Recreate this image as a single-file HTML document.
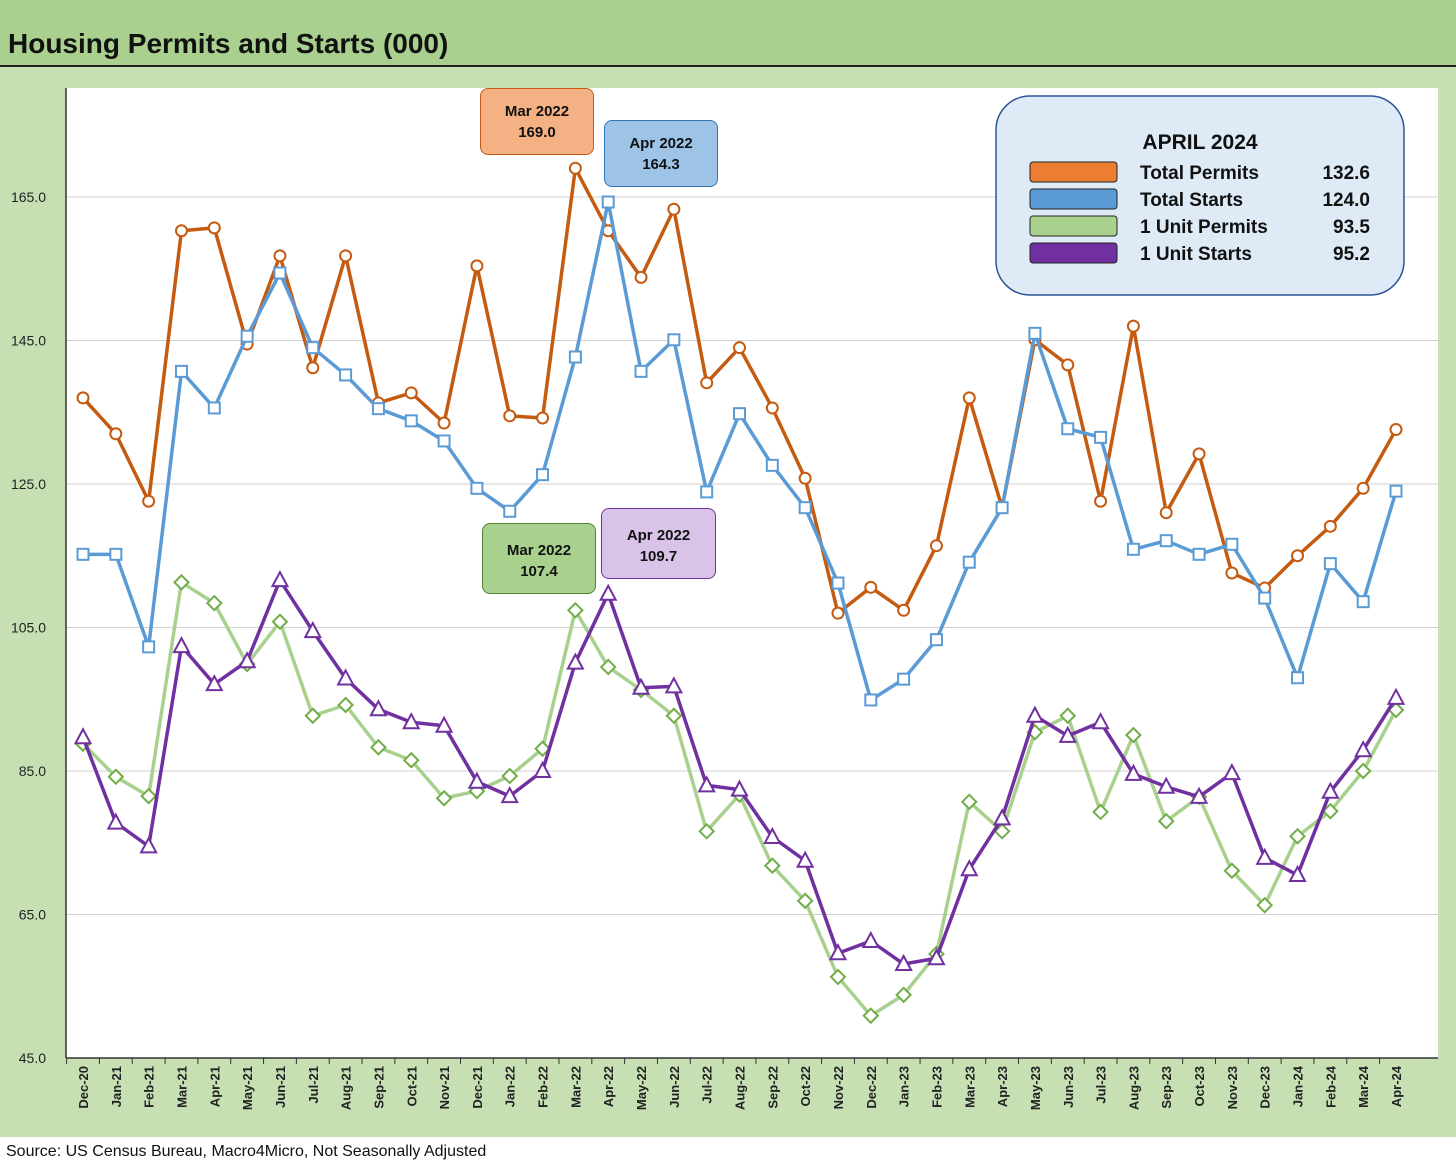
<!DOCTYPE html>
<html><head><meta charset="utf-8">
<style>
body{margin:0;width:1456px;height:1166px;background:#c6e0b4;font-family:"Liberation Sans",sans-serif;overflow:hidden;position:relative}
#hdr{position:absolute;left:0;top:0;width:1456px;height:65px;background:#a9d08e;border-bottom:2px solid #222}
#hdr span{position:absolute;left:8px;top:28px;font-size:28px;font-weight:bold;color:#111}
#foot{position:absolute;left:0;top:1137px;width:1456px;height:29px;background:#fff}
#foot span{position:absolute;left:6px;top:6px;font-size:16px;color:#111}
svg{position:absolute;left:0;top:0}
.box{position:absolute;border-radius:8px;text-align:center;font-weight:bold;font-size:15px;line-height:21px;color:#111;box-sizing:border-box;padding-top:12px}
</style></head><body>
<div id="hdr"><span>Housing Permits and Starts (000)</span></div>
<svg id="chart" width="1456" height="1166"></svg>
<div class="box" style="left:480px;top:88px;width:114px;height:67px;background:#f4b183;border:1px solid #c55a11">Mar 2022<br>169.0</div>
<div class="box" style="left:604px;top:120px;width:114px;height:67px;background:#9dc3e6;border:1px solid #2e75b6">Apr 2022<br>164.3</div>
<div class="box" style="left:482px;top:523px;width:114px;height:71px;background:#a9d18e;border:1px solid #548235;padding-top:16px">Mar 2022<br>107.4</div>
<div class="box" style="left:601px;top:508px;width:115px;height:71px;background:#d9c3e9;border:1px solid #7030a0;padding-top:16px">Apr 2022<br>109.7</div>
<div id="foot"><span>Source: US Census Bureau, Macro4Micro, Not Seasonally Adjusted</span></div>
<script>
const categories=["Dec-20","Jan-21","Feb-21","Mar-21","Apr-21","May-21","Jun-21","Jul-21","Aug-21","Sep-21","Oct-21","Nov-21","Dec-21","Jan-22","Feb-22","Mar-22","Apr-22","May-22","Jun-22","Jul-22","Aug-22","Sep-22","Oct-22","Nov-22","Dec-22","Jan-23","Feb-23","Mar-23","Apr-23","May-23","Jun-23","Jul-23","Aug-23","Sep-23","Oct-23","Nov-23","Dec-23","Jan-24","Feb-24","Mar-24","Apr-24"];
const totalPermits=[137.0,132.0,122.6,160.3,160.7,144.5,156.8,141.2,156.8,136.3,137.7,133.5,155.4,134.5,134.2,169.0,160.3,153.8,163.3,139.1,144.0,135.6,125.8,107.0,110.6,107.4,116.4,137.0,121.7,145.1,141.6,122.6,147.0,121.0,129.2,112.6,110.5,115.0,119.1,124.4,132.6];
const totalStarts=[115.2,115.2,102.3,140.7,135.6,145.6,154.4,144.0,140.2,135.5,133.8,131.0,124.4,121.2,126.3,142.7,164.3,140.7,145.1,123.9,134.8,127.6,121.7,111.2,94.9,97.8,103.3,114.1,121.7,146.0,132.7,131.5,115.9,117.1,115.2,116.6,109.1,98.0,113.9,108.6,124.0];
const unitPermits=[88.8,84.2,81.5,111.3,108.4,99.9,105.8,92.7,94.2,88.3,86.5,81.2,82.2,84.3,88.1,107.4,99.5,96.3,92.7,76.6,81.7,71.8,66.9,56.3,50.9,53.8,59.5,80.7,76.6,90.4,92.7,79.3,90.0,78.0,81.4,71.1,66.3,75.9,79.4,85.0,93.5];
const unitStarts=[89.7,77.8,74.5,102.4,97.1,100.3,111.6,104.5,97.9,93.6,91.8,91.3,83.5,81.5,85.0,100.1,109.7,96.6,96.8,83.0,82.4,75.8,72.5,59.6,61.3,58.1,58.9,71.3,78.4,92.7,89.9,91.8,84.6,82.8,81.4,84.7,72.9,70.5,82.1,87.9,95.2];
const yTicks=[45,65,85,105,125,145,165];
const legendNames=["Total Permits","Total Starts","1 Unit Permits","1 Unit Starts"];
const legendValues=["132.6","124.0","93.5","95.2"];

const NS="http://www.w3.org/2000/svg";
const svg=document.getElementById('chart');
const X0=83,X1=1396,Y0=1058,YT=197;
function x(i){return X0+(X1-X0)*i/(categories.length-1);}
function y(v){return Y0-(v-45)*(Y0-YT)/120;}
function mk(t,a,p){const e=document.createElementNS(NS,t);for(const k in a)e.setAttribute(k,a[k]);(p||svg).appendChild(e);return e;}

const plot=mk('rect',{x:66,y:88,width:1372,height:970,fill:'#fff'});


yTicks.forEach(t=>{
  if(t>45){const g=mk('line',{x1:66,x2:1438,y1:y(t),y2:y(t),stroke:'#d0d0d0','stroke-width':1});
  
  }
  const l=mk('text',{x:46,y:y(t)+5,'text-anchor':'end','font-size':14,fill:'#222'});
  l.textContent=t.toFixed(1);
  
  
});
const ax=mk('line',{x1:66,x2:66,y1:88,y2:1058,stroke:'#333','stroke-width':1.5});


const bx=mk('line',{x1:66,x2:1438,y1:1058,y2:1058,stroke:'#333','stroke-width':1.5});


categories.forEach((c,i)=>{
  const t=mk('line',{x1:x(i)-16.4,x2:x(i)-16.4,y1:1058,y2:1064,stroke:'#333'});
  
  
  const l=mk('text',{x:0,y:0,'text-anchor':'end','font-size':13,'font-weight':'bold',fill:'#222',transform:`translate(${x(i)+5},1066) rotate(-90)`});
  l.textContent=c;
  
  
});
function series(data,color,mcolor,shape,name){
  const g=mk('g',{});
  
  
  const p=mk('polyline',{points:data.map((v,i)=>x(i)+','+y(v)).join(' '),fill:'none',stroke:color,'stroke-width':3.5,'stroke-linejoin':'round'},g);
  
  
  data.forEach((v,i)=>{
    const cx=x(i),cy=y(v);let m;
    if(shape==='circle')m=mk('circle',{cx:cx,cy:cy,r:5.5,fill:'#fff',stroke:mcolor,'stroke-width':2},g);
    else if(shape==='square')m=mk('rect',{x:cx-5.5,y:cy-5.5,width:11,height:11,fill:'#fff',stroke:mcolor,'stroke-width':2},g);
    else if(shape==='diamond')m=mk('polygon',{points:`${cx},${cy-7} ${cx+7},${cy} ${cx},${cy+7} ${cx-7},${cy}`,fill:'#fff',stroke:mcolor,'stroke-width':2},g);
    else m=mk('polygon',{points:`${cx},${cy-8} ${cx+7.5},${cy+6} ${cx-7.5},${cy+6}`,fill:'#fff',stroke:mcolor,'stroke-width':2},g);
    
    
  });
}
series(totalPermits,'#c55a11','#c55a11','circle','total-permits');
series(totalStarts,'#5b9bd5','#5b9bd5','square','total-starts');
series(unitPermits,'#a9d18e','#70ad47','diamond','1-unit-permits');
series(unitStarts,'#7030a0','#7030a0','triangle','1-unit-starts');

const lg=mk('g',{});


mk('rect',{x:996,y:96,width:408,height:199,rx:34,fill:'#deebf7',stroke:'#2f5597','stroke-width':1.5},lg);
const lt=mk('text',{x:1200,y:149,'text-anchor':'middle','font-size':21,'font-weight':'bold',fill:'#111'},lg);
lt.textContent='APRIL 2024';


const sw=['#ed7d31','#5b9bd5','#a9d18e','#7030a0'];
legendNames.forEach((n,i)=>{
  const yy=172+i*27;
  const r=mk('rect',{x:1030,y:yy-10,width:87,height:20,rx:3,fill:sw[i],stroke:'#222','stroke-width':1},lg);
  
  
  const t=mk('text',{x:1140,y:yy+7,'font-size':19,'font-weight':'bold',fill:'#111'},lg);
  t.textContent=n;
  
  
  const v=mk('text',{x:1370,y:yy+7,'text-anchor':'end','font-size':19,'font-weight':'bold',fill:'#111'},lg);
  v.textContent=legendValues[i];
  
  
});
</script>
</body></html>
